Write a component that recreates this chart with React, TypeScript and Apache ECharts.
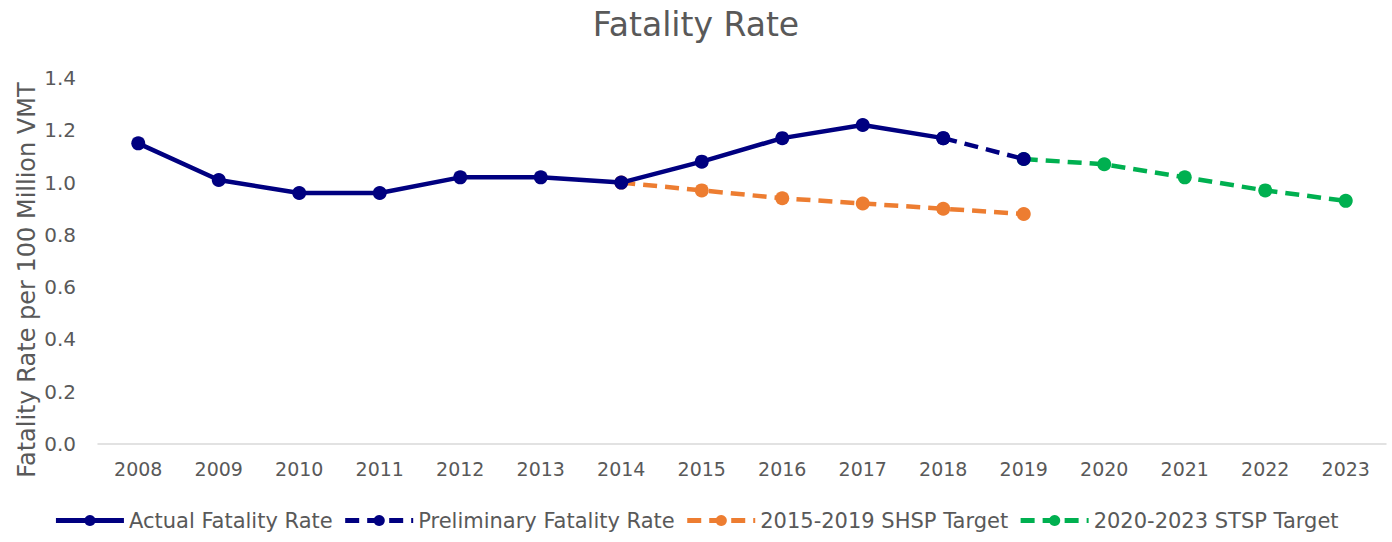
import React, { useEffect, useRef } from "react";
import * as echarts from "echarts";

const years = ["2008","2009","2010","2011","2012","2013","2014","2015","2016","2017","2018","2019","2020","2021","2022","2023"];
const actual = [1.15, 1.01, 0.96, 0.96, 1.02, 1.02, 1.0, 1.08, 1.17, 1.22, 1.17, null, null, null, null, null];
const preliminary = [null, null, null, null, null, null, null, null, null, null, 1.17, 1.09, null, null, null, null];
const shspTarget = [null, null, null, null, null, null, 1.0, 0.97, 0.94, 0.92, 0.9, 0.88, null, null, null, null];
const stspTarget = [null, null, null, null, null, null, null, null, null, null, null, 1.09, 1.07, 1.02, 0.97, 0.93];
const yTicks = { min: 0, max: 1.4, interval: 0.2 };
const yAxisTitle = "Fatality Rate per 100 Million VMT";

const FONT = "'DejaVu Sans', sans-serif";
const GRAY = "#595959";

export default function App() {
  const ref = useRef<HTMLDivElement>(null);
  useEffect(() => {
    if (!ref.current) return;
    const chart = echarts.init(ref.current, null, { renderer: "svg" });
    const mk = (name: string, data: any[], color: string, dashed: boolean, z: number) => ({
      name,
      type: "line",
      data,
      z,
      symbol: "circle",
      symbolSize: 14,
      showSymbol: true,
      connectNulls: false,
      itemStyle: { color },
      lineStyle: { color, width: 4.5, type: dashed ? [14, 8] : "solid" },
    });
    chart.setOption({
      animation: false,
      backgroundColor: "#ffffff",
      textStyle: { fontFamily: FONT },
      title: {
        text: "Fatality Rate",
        left: "center",
        top: 3,
        textStyle: { fontFamily: FONT, fontSize: 33, fontWeight: "normal", color: GRAY },
      },
      graphic: [
        {
          type: "text",
          x: 27,
          y: 280,
          rotation: Math.PI / 2,
          style: {
            text: yAxisTitle,
            fill: GRAY,
            font: "24px 'DejaVu Sans', sans-serif",
            textAlign: "center",
            textVerticalAlign: "middle",
          },
        },
      ],
      grid: { left: 98, right: 6, top: 78, bottom: 98, containLabel: false },
      legend: {
        bottom: 6,
        left: "center",
        itemWidth: 68,
        itemHeight: 14,
        itemGap: 10,
        lineStyle: { width: 5 },
        textStyle: { fontFamily: FONT, fontSize: 21, color: GRAY },
        data: ["Actual Fatality Rate", "Preliminary Fatality Rate", "2015-2019 SHSP Target", "2020-2023 STSP Target"],
      },
      xAxis: {
        type: "category",
        data: years,
        boundaryGap: true,
        axisLine: { lineStyle: { color: "#D9D9D9", width: 1.5 } },
        axisTick: { show: false },
        axisLabel: { color: GRAY, fontSize: 19, margin: 15, fontFamily: FONT },
        splitLine: { show: false },
      },
      yAxis: {
        type: "value",
        min: yTicks.min,
        max: yTicks.max,
        interval: yTicks.interval,
        axisLine: { show: false },
        axisTick: { show: false },
        splitLine: { show: false },
        axisLabel: {
          color: GRAY,
          fontSize: 20,
          margin: 22,
          fontFamily: FONT,
          formatter: (v: number) => v.toFixed(1),
        },
      },
      series: [
        mk("Actual Fatality Rate", actual, "#000080", false, 4),
        mk("Preliminary Fatality Rate", preliminary, "#000080", true, 4),
        mk("2015-2019 SHSP Target", shspTarget, "#ED7D31", true, 2),
        mk("2020-2023 STSP Target", stspTarget, "#00B050", true, 2),
      ],
    });
    return () => chart.dispose();
  }, []);
  return (
    <div
      ref={ref}
      style={{ position: "fixed", left: 0, top: 0, width: 1392, height: 542, background: "#fff" }}
    />
  );
}
